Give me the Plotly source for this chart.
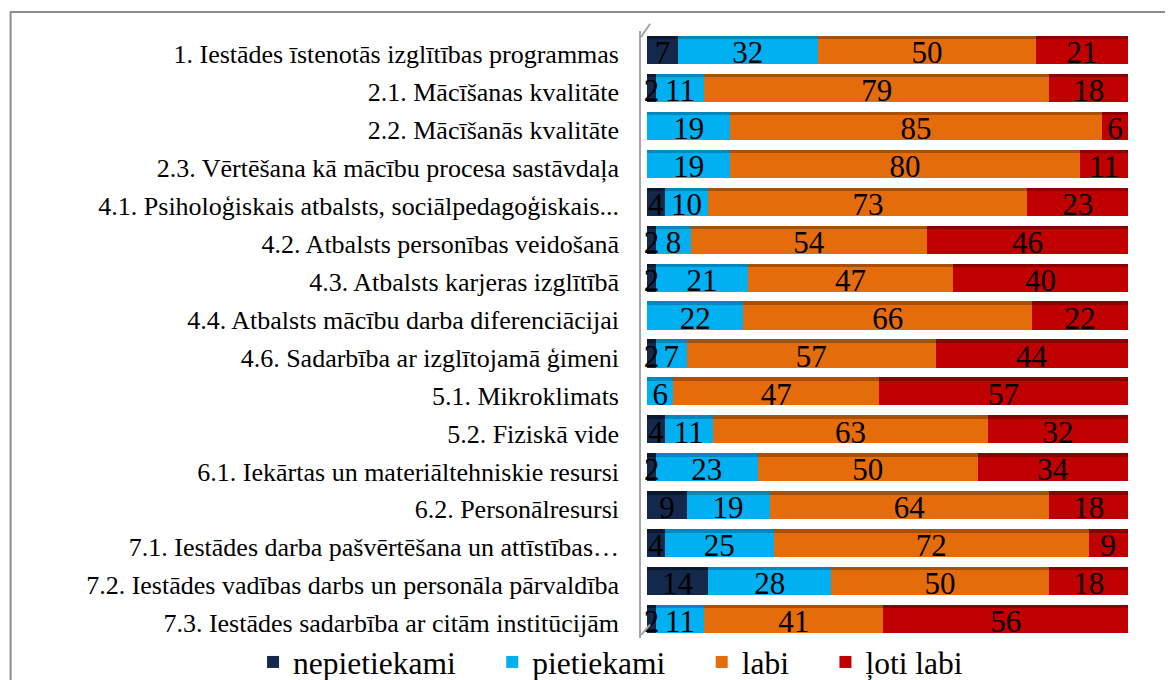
import plotly.graph_objects as go

categories = [
    "1. Iestādes īstenotās izglītības programmas",
    "2.1. Mācīšanas kvalitāte",
    "2.2. Mācīšanās kvalitāte",
    "2.3. Vērtēšana kā mācību procesa sastāvdaļa",
    "4.1. Psiholoģiskais atbalsts, sociālpedagoģiskais...",
    "4.2. Atbalsts personības veidošanā",
    "4.3. Atbalsts karjeras izglītībā",
    "4.4. Atbalsts mācību darba diferenciācijai",
    "4.6. Sadarbība ar izglītojamā ģimeni",
    "5.1. Mikroklimats",
    "5.2. Fiziskā vide",
    "6.1. Iekārtas un materiāltehniskie resursi",
    "6.2. Personālresursi",
    "7.1. Iestādes darba pašvērtēšana un attīstības…",
    "7.2. Iestādes vadības darbs un personāla pārvaldība",
    "7.3. Iestādes sadarbība ar citām institūcijām",
]
nepietiekami = [7, 2, 0, 0, 4, 2, 2, 0, 2, 0, 4, 2, 9, 4, 14, 2]
pietiekami = [32, 11, 19, 19, 10, 8, 21, 22, 7, 6, 11, 23, 19, 25, 28, 11]
labi = [50, 79, 85, 80, 73, 54, 47, 66, 57, 47, 63, 50, 64, 72, 50, 41]
loti_labi = [21, 18, 6, 11, 23, 46, 40, 22, 44, 57, 32, 34, 18, 9, 18, 56]

series = [
    ("nepietiekami", nepietiekami, "#14284B", "#0A1830"),
    ("pietiekami", pietiekami, "#00B0F0", "#0088BE"),
    ("labi", labi, "#E46C0A", "#A85006"),
    ("ļoti labi", loti_labi, "#C00000", "#8A0000"),
]

font_family = "Liberation Serif"
pad = "\u00a0" * 4
n = len(categories)
label_shift = 0.11  # category labels sit slightly below bar centres

fig = go.Figure()
# main bars
for name, vals, color, dark in series:
    fig.add_trace(go.Bar(
        y=categories, x=vals, name=name + pad, orientation="h",
        marker=dict(color=color, line=dict(width=0)),
        hoverinfo="x+y+name",
    ))
# darker top edge strip (pseudo 3D)
for name, vals, color, dark in series:
    fig.add_trace(go.Bar(
        y=categories, x=vals, orientation="h", xaxis="x2",
        marker=dict(color=dark, line=dict(width=0)),
        width=0.09, offset=-0.37, showlegend=False, hoverinfo="skip",
    ))
# value labels, drawn on top of all bars
for name, vals, color, dark in series:
    fig.add_trace(go.Bar(
        y=categories, x=vals, orientation="h", xaxis="x3",
        marker=dict(color="rgba(0,0,0,0)", line=dict(width=0)),
        width=0.74, offset=-0.30,
        text=[str(v) if v else "" for v in vals],
        textposition="inside", insidetextanchor="middle", textangle=0,
        textfont=dict(family=font_family, size=31, color="black"),
        constraintext="none", cliponaxis=False,
        showlegend=False, hoverinfo="skip",
    ))
# carrier for the category tick labels (invisible)
fig.add_trace(go.Scatter(
    y=categories, x=[0] * n, yaxis="y2", mode="markers",
    marker=dict(opacity=0, size=1), showlegend=False, hoverinfo="skip",
))

xr = [-1.3, 100]
fig.update_layout(
    barmode="stack", barnorm="percent", bargap=0.26,
    width=1165, height=672,
    margin=dict(l=632.75, r=45, t=22.5, b=42, autoexpand=False),
    paper_bgcolor="white", plot_bgcolor="white",
    font=dict(family=font_family, size=26, color="black"),
    uniformtext=dict(minsize=31, mode="show"),
    showlegend=True,
    legend=dict(orientation="h", x=-0.7966, xanchor="left", y=-0.0395, yanchor="middle",
                font=dict(family=font_family, size=31.5), traceorder="normal",
                itemwidth=30, tracegroupgap=0, bgcolor="rgba(0,0,0,0)"),
    xaxis=dict(visible=False, range=xr),
    xaxis2=dict(visible=False, range=xr, overlaying="x"),
    xaxis3=dict(visible=False, range=xr, overlaying="x"),
    yaxis=dict(range=[n - 0.5, -0.5], type="category", showline=True,
               linecolor="#A6A6A6", linewidth=2, ticks="", showticklabels=False,
               showgrid=False),
    yaxis2=dict(overlaying="y", side="left", type="category",
                categoryorder="array", categoryarray=categories,
                range=[n - 0.5 - label_shift, -0.5 - label_shift],
                showline=False, ticks="", ticklabelstandoff=21, showgrid=False,
                tickfont=dict(family=font_family, size=26)),
)

# outer chart border
fig.add_shape(type="rect", xref="paper", yref="paper",
              x0=-1.2945, x1=1.3, y0=-0.2, y1=1.0313,
              line=dict(color="#8C8C8C", width=2), fillcolor="rgba(0,0,0,0)", layer="below")
# slanted ends of the 3D side wall
fig.add_shape(type="line", xref="x", yref="paper",
              x0=-1.3, y0=0.99, x1=0.6, y1=1.012,
              line=dict(color="#A6A6A6", width=2))
fig.add_shape(type="line", xref="x", yref="paper",
              x0=-1.3, y0=0.005, x1=0.6, y1=0.022,
              line=dict(color="#A6A6A6", width=2))

fig.write_html("out.html")
